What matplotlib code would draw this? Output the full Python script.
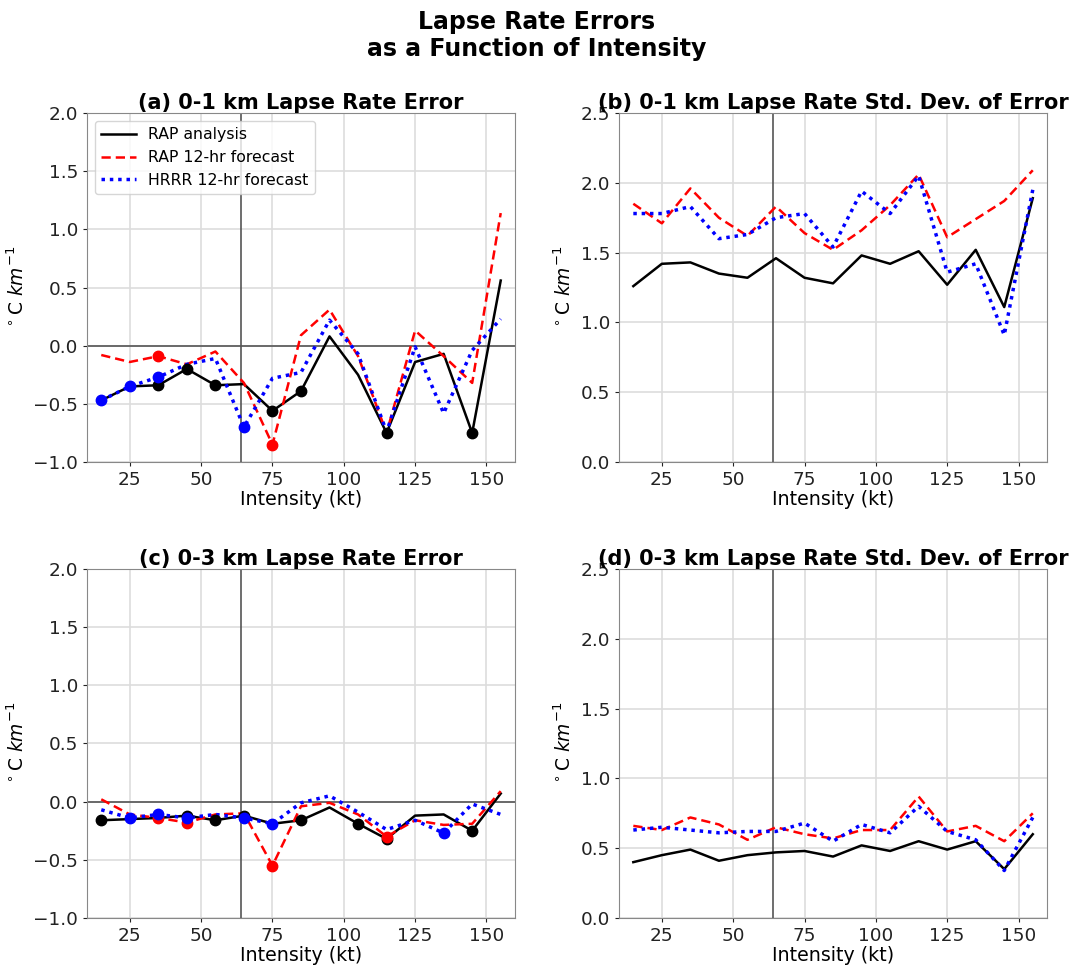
import matplotlib
matplotlib.use("Agg")
import matplotlib.pyplot as plt
import numpy as np

# intensity bins (kt)
intensity = [15, 25, 35, 45, 55, 65, 75, 85, 95, 105, 115, 125, 135, 145, 155]

# (a) 0-1 km lapse rate error
a_rap_anl = [-0.47, -0.35, -0.34, -0.20, -0.34, -0.33, -0.56, -0.39, 0.08, -0.25, -0.75, -0.14, -0.07, -0.75, 0.56]
a_rap_fcst = [-0.08, -0.14, -0.09, -0.16, -0.05, -0.32, -0.85, 0.09, 0.31, -0.09, -0.75, 0.13, -0.09, -0.32, 1.14]
a_hrrr_fcst = [-0.47, -0.35, -0.27, -0.16, -0.11, -0.70, -0.28, -0.23, 0.22, -0.07, -0.74, -0.01, -0.58, -0.04, 0.23]
a_sig_anl = [35, 45, 55, 75, 85, 115, 145]
a_sig_rap = [35, 75]
a_sig_hrrr = [15, 25, 35, 65]

# (b) 0-1 km std dev of error
b_rap_anl = [1.26, 1.42, 1.43, 1.35, 1.32, 1.46, 1.32, 1.28, 1.48, 1.42, 1.51, 1.27, 1.52, 1.11, 1.89]
b_rap_fcst = [1.85, 1.71, 1.96, 1.75, 1.62, 1.83, 1.64, 1.52, 1.66, 1.84, 2.06, 1.61, 1.74, 1.87, 2.09]
b_hrrr_fcst = [1.78, 1.78, 1.83, 1.60, 1.63, 1.75, 1.78, 1.54, 1.94, 1.78, 2.05, 1.36, 1.42, 0.91, 1.95]

# (c) 0-3 km lapse rate error
c_rap_anl = [-0.16, -0.15, -0.14, -0.12, -0.16, -0.12, -0.19, -0.16, -0.05, -0.19, -0.32, -0.12, -0.11, -0.25, 0.07]
c_rap_fcst = [0.02, -0.11, -0.14, -0.18, -0.11, -0.10, -0.55, -0.04, -0.01, -0.11, -0.30, -0.16, -0.20, -0.19, 0.09]
c_hrrr_fcst = [-0.07, -0.14, -0.11, -0.14, -0.11, -0.14, -0.19, -0.01, 0.05, -0.09, -0.24, -0.16, -0.27, -0.02, -0.11]
c_sig_anl = [15, 45, 55, 65, 85, 105, 115, 145]
c_sig_rap = [35, 45, 75, 115]
c_sig_hrrr = [25, 35, 45, 65, 75, 135]

# (d) 0-3 km std dev of error
d_rap_anl = [0.40, 0.45, 0.49, 0.41, 0.45, 0.47, 0.48, 0.44, 0.52, 0.48, 0.55, 0.49, 0.55, 0.35, 0.60]
d_rap_fcst = [0.66, 0.63, 0.72, 0.67, 0.56, 0.65, 0.60, 0.57, 0.63, 0.63, 0.87, 0.62, 0.66, 0.55, 0.75]
d_hrrr_fcst = [0.63, 0.65, 0.63, 0.61, 0.62, 0.62, 0.68, 0.55, 0.67, 0.61, 0.80, 0.62, 0.56, 0.34, 0.72]

labels = ["RAP analysis", "RAP 12-hr forecast", "HRRR 12-hr forecast"]

fig = plt.figure(figsize=(10.74, 9.66), dpi=100)
pos = {"a": [0.081, 0.5217, 0.3985, 0.3613],
       "b": [0.5764, 0.5217, 0.3985, 0.3613],
       "c": [0.081, 0.0497, 0.3985, 0.3613],
       "d": [0.5764, 0.0497, 0.3985, 0.3613]}


def sig_vals(vals, sig):
    return [vals[intensity.index(k)] for k in sig]


def panel(ax, title, anl, rap, hrrr, ylim, sig=None, zero=False):
    ax.grid(True, color="#dddddd", linewidth=1.2)
    ax.set_axisbelow(True)
    ax.axvline(64, color="#555555", linewidth=1.2)
    if zero:
        ax.axhline(0, color="#555555", linewidth=1.2)
    ax.plot(intensity, anl, color="black", linestyle="-", linewidth=1.8, label=labels[0])
    ax.plot(intensity, rap, color="red", linestyle=(0, (3.7, 2.0)), linewidth=1.8, label=labels[1])
    ax.plot(intensity, hrrr, color="blue", linestyle=(0, (1, 1.4)), linewidth=2.5, label=labels[2])
    if sig is not None:
        for vals, s, c in zip([anl, rap, hrrr], sig, ["black", "red", "blue"]):
            ax.plot(s, sig_vals(vals, s), "o", color=c, markersize=7.5, zorder=4)
    ax.set_xlim(10, 160)
    ax.set_ylim(*ylim)
    ax.set_xticks([25, 50, 75, 100, 125, 150])
    ax.set_title(title, fontsize=15, fontweight="bold", pad=2)
    ax.set_xlabel("Intensity (kt)", fontsize=13.7, labelpad=1)
    ax.set_ylabel(r"$^\circ$C $km^{-1}$", fontsize=13.5)
    ax.tick_params(labelsize=13.3, colors="#222222", length=3, width=0.8)
    for sp in ax.spines.values():
        sp.set_color("#888888")


ax_a = fig.add_axes(pos["a"])
panel(ax_a, "(a) 0-1 km Lapse Rate Error", a_rap_anl, a_rap_fcst, a_hrrr_fcst,
      (-1.0, 2.0), sig=[a_sig_anl, a_sig_rap, a_sig_hrrr], zero=True)
ax_a.legend(loc="upper left", fontsize=11.3, framealpha=0.8, handlelength=2.2)

ax_b = fig.add_axes(pos["b"])
panel(ax_b, "(b) 0-1 km Lapse Rate Std. Dev. of Error", b_rap_anl, b_rap_fcst, b_hrrr_fcst,
      (0.0, 2.5))

ax_c = fig.add_axes(pos["c"])
panel(ax_c, "(c) 0-3 km Lapse Rate Error", c_rap_anl, c_rap_fcst, c_hrrr_fcst,
      (-1.0, 2.0), sig=[c_sig_anl, c_sig_rap, c_sig_hrrr], zero=True)

ax_d = fig.add_axes(pos["d"])
panel(ax_d, "(d) 0-3 km Lapse Rate Std. Dev. of Error", d_rap_anl, d_rap_fcst, d_hrrr_fcst,
      (0.0, 2.5))

fig.suptitle("Lapse Rate Errors\nas a Function of Intensity", fontsize=17,
             fontweight="bold", y=0.99)

fig.savefig("out.png", dpi=100)
